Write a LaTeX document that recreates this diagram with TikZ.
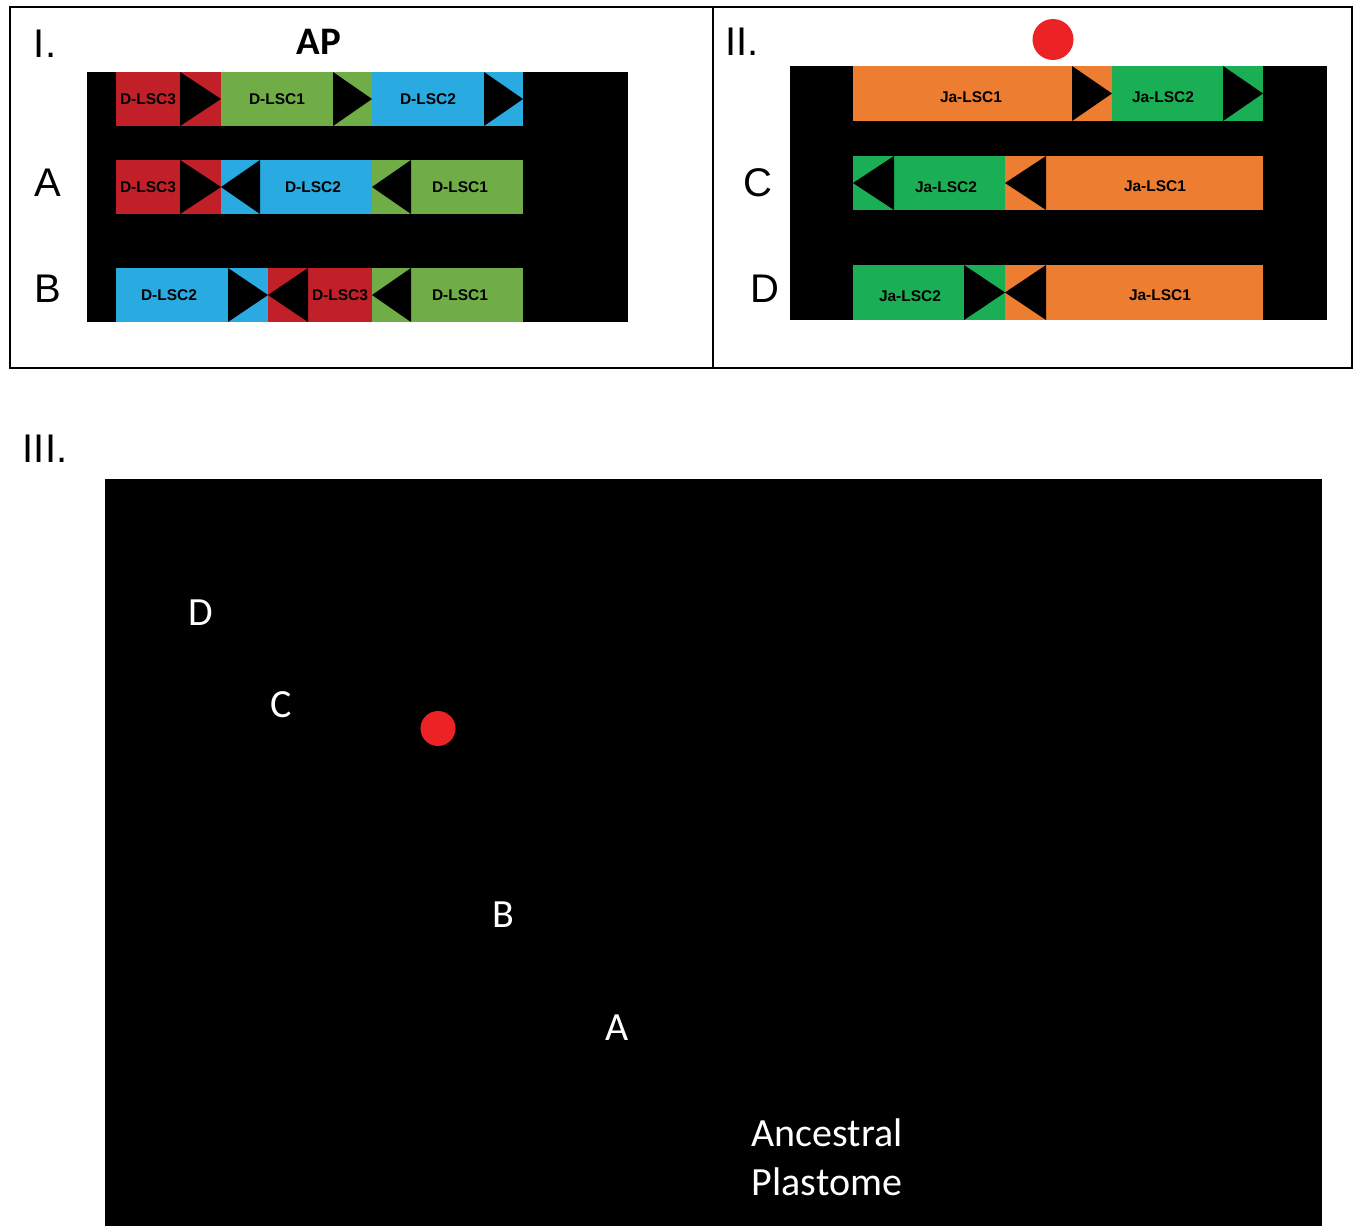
\documentclass[tikz,border=0pt]{standalone}
\usepackage{fontspec}
\setmainfont{Liberation Sans}
\newfontfamily\calfont{Carlito}
\definecolor{DRed}{RGB}{193,32,40}
\definecolor{DGreen}{RGB}{112,173,71}
\definecolor{DBlue}{RGB}{41,171,226}
\definecolor{JOrange}{RGB}{237,125,49}
\definecolor{JGreen}{RGB}{26,175,84}
\definecolor{Dot}{RGB}{237,34,36}
\newcommand{\rtri}[4]{\fill[black] (#1,#3) -- (#1,#4) -- (#2,{(#3+#4)/2}) -- cycle;}
\newcommand{\ltri}[4]{\fill[black] (#2,#3) -- (#2,#4) -- (#1,{(#3+#4)/2}) -- cycle;}
\tikzset{
  lbl/.style={font=\fontsize{40}{40}\selectfont, inner sep=0pt},
  seg/.style={font=\bfseries\fontsize{15.5}{16}\selectfont, text=black, inner sep=0pt},
  wlbl/.style={font=\calfont\fontsize{40}{40}\selectfont, text=white, inner sep=0pt},
  frame/.style={draw=black, line width=2pt},
}
\begin{document}
\begin{tikzpicture}[x=1pt,y=-1pt]
\useasboundingbox (0,0) rectangle (1354,1226);
\fill[white] (0,0) rectangle (1354,1226);
% frames
\draw[frame] (10,7) rectangle (1352,368);
\draw[frame] (713,7) -- (713,368);

% ===== Panel I =====
\node[lbl] (tI) at (45,44) {I.};
\node[font=\calfont\bfseries\fontsize{39}{39}\selectfont, inner sep=0pt] (tAP) at (319,41.5) {AP};
\node[lbl] (tA) at (48,183) {A};
\node[lbl] (tB) at (48,289) {B};
\fill[black] (87,72) rectangle (628,322);
% row 1
\fill[DRed] (116,72) rectangle (221,126);
\fill[DGreen] (221,72) rectangle (372,126);
\fill[DBlue] (372,72) rectangle (523,126);
\rtri{180}{221}{72}{126}
\rtri{333}{372}{72}{126}
\rtri{484}{523}{72}{126}
\node[seg] (a1) at (148,99) {D-LSC3};
\node[seg] (a2) at (277,99) {D-LSC1};
\node[seg] (a3) at (428,99) {D-LSC2};
% row 2
\fill[DRed] (116,160) rectangle (221,214);
\fill[DBlue] (221,160) rectangle (372,214);
\fill[DGreen] (372,160) rectangle (523,214);
\rtri{180}{221}{160}{214}
\ltri{221}{260}{160}{214}
\ltri{372}{411}{160}{214}
\node[seg] (b1) at (148,187) {D-LSC3};
\node[seg] (b2) at (313,187) {D-LSC2};
\node[seg] (b3) at (460,187) {D-LSC1};
% row 3
\fill[DBlue] (116,268) rectangle (268,322);
\fill[DRed] (268,268) rectangle (372,322);
\fill[DGreen] (372,268) rectangle (523,322);
\rtri{228}{268}{268}{322}
\ltri{268}{308}{268}{322}
\ltri{372}{411}{268}{322}
\node[seg] (c1) at (169,295) {D-LSC2};
\node[seg] (c2) at (340,295) {D-LSC3};
\node[seg] (c3) at (460,295) {D-LSC1};

% ===== Panel II =====
\node[lbl] (tII) at (742,42) {II.};
\fill[Dot] (1053,39.5) circle (20.5);
\coordinate (dotII) at (1053,39.5);
\node[lbl] (tC) at (758,183) {C};
\node[lbl] (tD) at (765,289) {D};
\fill[black] (790,66) rectangle (1327,320);
% row 1
\fill[JOrange] (853,66) rectangle (1112,121);
\fill[JGreen] (1112,66) rectangle (1263,121);
\rtri{1072}{1112}{66}{121}
\rtri{1223}{1263}{66}{121}
\node[seg] (d1) at (971,97) {Ja-LSC1};
\node[seg] (d2) at (1163,97) {Ja-LSC2};
% row 2
\fill[JGreen] (853,156) rectangle (1005,210);
\fill[JOrange] (1005,156) rectangle (1263,210);
\ltri{853}{894}{156}{210}
\ltri{1005}{1046}{156}{210}
\node[seg] (e1) at (946,187) {Ja-LSC2};
\node[seg] (e2) at (1155,186) {Ja-LSC1};
% row 3
\fill[JGreen] (853,265) rectangle (1005,320);
\fill[JOrange] (1005,265) rectangle (1263,320);
\rtri{964}{1005}{265}{320}
\ltri{1005}{1046}{265}{320}
\node[seg] (f1) at (910,296) {Ja-LSC2};
\node[seg] (f2) at (1160,295) {Ja-LSC1};

% ===== Panel III =====
\node[lbl] (tIII) at (45,449) {III.};
\fill[black] (105,479) rectangle (1322,1226);
\node[wlbl] (pD) at (201,612.5) {D};
\node[wlbl] (pC) at (281.5,705) {C};
\fill[Dot] (438,728.5) circle (17.5);
\coordinate (dotIII) at (438,728.5);
\node[wlbl] (pB) at (503.5,915) {B};
\node[wlbl] (pA) at (617,1028) {A};
\node[wlbl] (anc1) at (827,1133) {Ancestral};
\node[wlbl] (anc2) at (827,1182) {Plastome};
\end{tikzpicture}
\end{document}
